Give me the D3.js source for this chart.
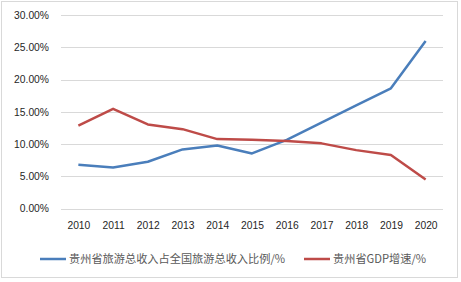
<!DOCTYPE html>
<html>
<head>
<meta charset="utf-8">
<script src="https://cdn.jsdelivr.net/npm/d3@7"></script>
<style>
  body { margin: 0; background: #fff; }
</style>
</head>
<body>
<div class="canvas"></div>
<script>
// data
var years = ["2010", "2011", "2012", "2013", "2014", "2015", "2016", "2017", "2018", "2019", "2020"];
var tourismShare = [6.77, 6.37, 7.24, 9.16, 9.78, 8.54, 10.65, 13.3, 16.0, 18.63, 25.97];
var gdpGrowth = [12.83, 15.45, 13.04, 12.3, 10.76, 10.65, 10.45, 10.1, 9.05, 8.28, 4.5];
var seriesNames = ["贵州省旅游总收入占全国旅游总收入比例/%", "贵州省GDP增速/%"];
var yTicks = [0, 5, 10, 15, 20, 25, 30];

var width = 461, height = 282;
var margin = {top: 15, right: 18, bottom: 73.5, left: 61};
var colors = ["#4A7EBB", "#BE4B48"];

var svg = d3.select(".canvas")
    .append("svg")
    .attr("width", width)
    .attr("height", height)
    .style("display", "block");

// outer frame
svg.append("rect")
    .attr("x", 1.5)
    .attr("y", 1.5)
    .attr("width", 456)
    .attr("height", 276)
    .attr("fill", "#fff")
    .attr("stroke", "#d9d9d9")
    .attr("stroke-width", 1);

var x = d3.scalePoint()
    .domain(years)
    .range([margin.left, width - margin.right])
    .padding(0.5);

var y = d3.scaleLinear()
    .domain([0, 30])
    .range([height - margin.bottom, margin.top]);

// gridlines
svg.append("g")
    .selectAll("line")
    .data(yTicks)
    .enter()
    .append("line")
      .attr("x1", margin.left)
      .attr("x2", width - margin.right)
      .attr("y1", d => Math.round(y(d)) + 0.5)
      .attr("y2", d => Math.round(y(d)) + 0.5)
      .attr("stroke", "#d9d9d9")
      .attr("stroke-width", 1);

// Y axis labels
var yAxis = svg.append("g")
    .attr("transform", `translate(${margin.left},0)`)
    .call(d3.axisLeft(y).tickValues(yTicks).tickSize(0).tickPadding(12)
        .tickFormat(d => d3.format(".2f")(d) + "%"));
yAxis.select(".domain").remove();
yAxis.selectAll("text")
    .style("font-family", "'Liberation Sans', Arial, sans-serif")
    .style("font-size", "10.3px")
    .attr("fill", "#262626");

// X axis labels
var xAxis = svg.append("g")
    .attr("transform", `translate(0,${height - margin.bottom})`)
    .call(d3.axisBottom(x).tickSize(0).tickPadding(13));
xAxis.select(".domain").remove();
xAxis.selectAll("text")
    .style("font-family", "'Liberation Sans', Arial, sans-serif")
    .style("font-size", "10.3px")
    .attr("fill", "#262626");

// lines
var line = d3.line()
    .x((d, i) => x(years[i]))
    .y(d => y(d));

[tourismShare, gdpGrowth].forEach(function(values, k) {
    svg.append("path")
        .datum(values)
        .attr("d", line)
        .attr("fill", "none")
        .attr("stroke", colors[k])
        .attr("stroke-width", 2.5)
        .attr("stroke-linejoin", "round");
});

// legend
var legendX = [40, 304];
var legendY = 259;
var legend = svg.append("g")
    .selectAll("g")
    .data(seriesNames)
    .enter()
    .append("g")
      .attr("transform", (d, i) => `translate(${legendX[i]},${legendY})`);

legend.append("line")
    .attr("x1", 0)
    .attr("x2", 26)
    .attr("y1", 0)
    .attr("y2", 0)
    .attr("stroke", (d, i) => colors[i])
    .attr("stroke-width", 2.5);

legend.append("text")
    .attr("x", 29)
    .attr("y", 0)
    .attr("dy", "0.36em")
    .text(d => d)
    .style("font-family", "'Noto Sans CJK SC', 'Liberation Sans', sans-serif")
    .style("font-size", "11.2px")
    .attr("fill", "#595959");
</script>
</body>
</html>
